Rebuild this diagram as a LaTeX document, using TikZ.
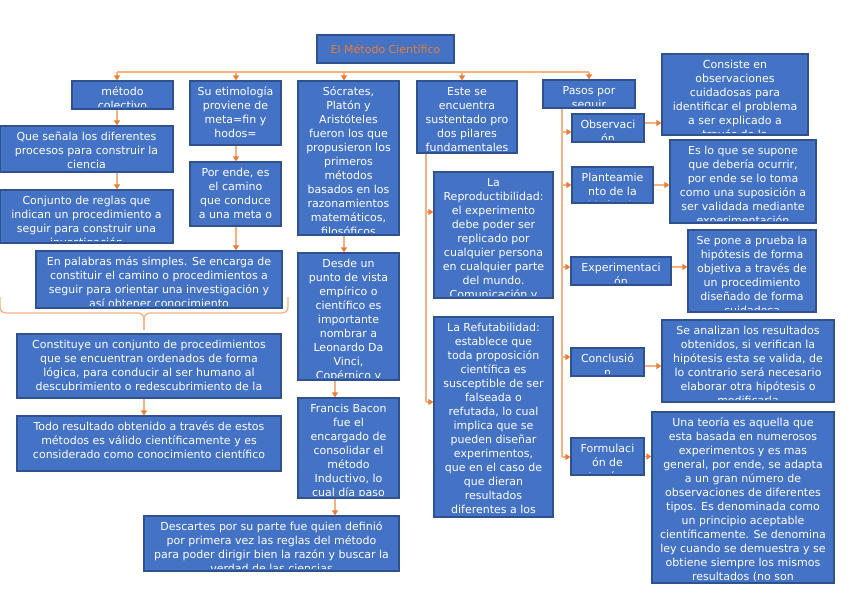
\documentclass[tikz,border=0pt]{standalone}
\usepackage{fontspec}
\setmainfont{DejaVu Sans}
\definecolor{mapblue}{HTML}{4472C4}
\definecolor{mapborder}{HTML}{2F528F}
\definecolor{maplink}{HTML}{F4B183}
\definecolor{maporange}{HTML}{ED7D31}
\usetikzlibrary{arrows.meta,calc}

% box with its text cut at the border
\newcommand{\clipbox}[6]{%
  \node[box, minimum width={(#4)-(#2)}, minimum height={(#5)-(#3)}]
    (#1) at ({((#2)+(#4))/2},{((#3)+(#5))/2}) {};
  \begin{scope}
    \clip ([shift={(3pt,3pt)}]#1.south west)
      rectangle ([shift={(-3pt,-3pt)}]#1.north east);
    \node[boxtext, anchor=north] (#1-text) at ([yshift=-6.5pt]#1.north) {#6};
  \end{scope}}

\begin{document}
\begin{tikzpicture}[x=1pt, y=-1pt,
  box/.style={draw=mapborder, fill=mapblue, line width=1.2pt,
              inner sep=0pt},
  boxtext/.style={text=white, align=center, inner sep=0pt,
                  font=\fontsize{11}{14}\selectfont,
                  execute at begin node=\strut},
  link/.style={draw=maplink, line width=1.3pt},
  arr/.style={link, -{Triangle[length=5pt, width=6pt, color=maporange]}}
]
\useasboundingbox[fill=white] (0,0) rectangle (848,599);

\node[box, minimum width=137, minimum height=28, text=maporange,
      font=\fontsize{11}{14}\selectfont] (title) at (385.5,49)
  {El Método Científico};

%% left columns
\clipbox{metodo}{72}{81}{173}{109}{método\\colectivo}
\clipbox{que}{0}{126}{173}{172}{Que señala los diferentes\\procesos para construir la\\ciencia}
\clipbox{conjunto}{0}{190}{173}{243}{Conjunto de reglas que\\indican un procedimiento a\\seguir para construir una\\investigación}
\clipbox{etim}{190}{81}{281}{145}{Su etimología\\proviene de\\meta=fin y\\hodos=}
\clipbox{porende}{190}{162}{281}{226}{Por ende, es\\el camino\\que conduce\\a una meta o}
\clipbox{palabras}{36}{251}{282}{308}{En palabras más simples. Se encarga de\\constituir el camino o procedimientos a\\seguir para orientar una investigación y\\así obtener conocimiento}
\clipbox{constituye}{17}{334}{281}{398}{Constituye un conjunto de procedimientos\\que se encuentran ordenados de forma\\lógica, para conducir al ser humano al\\descubrimiento o redescubrimiento de la}
\clipbox{todo}{17}{416}{281}{471}{Todo resultado obtenido a través de estos\\métodos es válido científicamente y es\\considerado como conocimiento científico}

%% history column
\clipbox{socrates}{298}{81}{399}{235}{Sócrates,\\Platón y\\Aristóteles\\fueron los que\\propusieron los\\primeros\\métodos\\basados en los\\razonamientos\\matemáticos,\\filosóficos}
\clipbox{desde}{298}{253}{399}{380}{Desde un\\punto de vista\\empírico o\\científico es\\importante\\nombrar a\\Leonardo Da\\Vinci,\\Copérnico y}
\clipbox{bacon}{298}{398}{399}{498}{Francis Bacon\\fue el\\encargado de\\consolidar el\\método\\Inductivo, lo\\cual día paso}
\clipbox{descartes}{144}{516}{399}{571}{Descartes por su parte fue quien definió\\por primera vez las reglas del método\\para poder dirigir bien la razón y buscar la\\verdad de las ciencias}

%% pillars
\clipbox{este}{417}{81}{517}{153}{Este se\\encuentra\\sustentado pro\\dos pilares\\fundamentales}
\clipbox{repro}{434}{172}{553}{298}{La\\Reproductibilidad:\\el experimento\\debe poder ser\\replicado por\\cualquier persona\\en cualquier parte\\del mundo.\\Comunicación y}
\clipbox{refut}{434}{317}{553}{517}{La Refutabilidad:\\establece que\\toda proposición\\científica es\\susceptible de ser\\falseada o\\refutada, lo cual\\implica que se\\pueden diseñar\\experimentos,\\que en el caso de\\que dieran\\resultados\\diferentes a los}

%% steps
\clipbox{pasos}{543}{80}{635}{108}{Pasos por\\seguir}
\clipbox{obs}{572}{114}{644}{142}{Observaci\\ón}
\clipbox{plant}{572}{167}{653}{203}{Planteamie\\nto de la\\hipótesis}
\clipbox{exper}{571}{257}{671}{285}{Experimentaci\\ón}
\clipbox{concl}{571}{348}{644}{376}{Conclusió\\n}
\clipbox{form}{571}{438}{644}{475}{Formulaci\\ón de\\teorías}
\clipbox{consiste}{662}{54}{808}{135}{Consiste en\\observaciones\\cuidadosas para\\identificar el problema\\a ser explicado a\\través de la}
\clipbox{supone}{670}{140}{816}{223}{Es lo que se supone\\que debería ocurrir,\\por ende se lo toma\\como una suposición a\\ser validada mediante\\experimentación}
\clipbox{prueba}{688}{230}{816}{312}{Se pone a prueba la\\hipótesis de forma\\objetiva a través de\\un procedimiento\\diseñado de forma\\cuidadosa}
\clipbox{analiza}{662}{320}{834}{402}{Se analizan los resultados\\obtenidos, si verifican la\\hipótesis esta se valida, de\\lo contrario será necesario\\elaborar otra hipótesis o\\modificarla}
\clipbox{teoria}{652}{412}{834}{583}{Una teoría es aquella que\\esta basada en numerosos\\experimentos y es mas\\general, por ende, se adapta\\a un gran número de\\observaciones de diferentes\\tipos. Es denominada como\\un principio aceptable\\científicamente. Se denomina\\ley cuando se demuestra y se\\obtiene siempre los mismos\\resultados (no son}

%% top bus
\coordinate (b1) at (117,72);
\coordinate (b2) at (236,72);
\coordinate (b3) at (344,72);
\coordinate (b4) at (462,72);
\coordinate (b5) at (589,72);
\draw[link] (b1) -- (b5);
\foreach \c/\n in {b1/metodo,b2/etim,b3/socrates,b4/este,b5/pasos}
  \draw[arr] (\c) -- (\c |- \n.north);

\draw[arr] (b1 |- metodo.south) -- (b1 |- que.north);
\draw[arr] (b1 |- que.south) -- (b1 |- conjunto.north);
\draw[arr] (b2 |- etim.south) -- (b2 |- porende.north);
\draw[arr] (b2 |- porende.south) -- (b2 |- palabras.north);

%% brace
\coordinate (braceL) at (0,297);
\coordinate (braceR) at (288,297);
\coordinate (braceM) at (144,313);
\coordinate (braceTip) at (144,330);
\draw[link, rounded corners=6pt] (braceL) |- (braceM) -- (braceTip);
\draw[link, rounded corners=6pt] (braceR) |- (braceM) -- (braceTip);
\draw[arr] (braceTip |- constituye.south) -- (braceTip |- todo.north);

\draw[arr] (b3 |- socrates.south) -- (b3 |- desde.north);
\draw[arr] ([xshift=-13.5pt]desde.south) -- ([xshift=-13.5pt]desde.south |- bacon.north);
\draw[arr] ([xshift=-13.5pt]bacon.south) -- ([xshift=-13.5pt]bacon.south |- descartes.north);

%% pillars line
\coordinate (p1) at (426,212);
\coordinate (p2) at (426,402);
\draw[link] (p1 |- este.south) -- (p2);
\draw[arr] (p1) -- (p1 -| repro.west);
\draw[arr] (p2) -- (p2 -| refut.west);

%% steps line
\coordinate (s1) at (562,132);
\coordinate (s2) at (562,185);
\coordinate (s3) at (562,267);
\coordinate (s4) at (562,357);
\coordinate (s5) at (562,457);
\draw[link] (s1 |- pasos.south) -- (s5);
\foreach \c/\n in {s1/obs,s2/plant,s3/exper,s4/concl,s5/form}
  \draw[arr] (\c) -- (\c -| \n.west);

\draw[arr] ([yshift=5pt]obs.east) -- ([yshift=5pt]obs.east -| consiste.west);
\draw[arr] (plant.east) -- (plant.east -| supone.west);
\draw[arr] ([yshift=4pt]exper.east) -- ([yshift=4pt]exper.east -| prueba.west);
\draw[arr] ([yshift=-4pt]concl.east) -- ([yshift=-4pt]concl.east -| analiza.west);
\draw[arr] (form.east) -- (form.east -| teoria.west);

\end{tikzpicture}
\end{document}
